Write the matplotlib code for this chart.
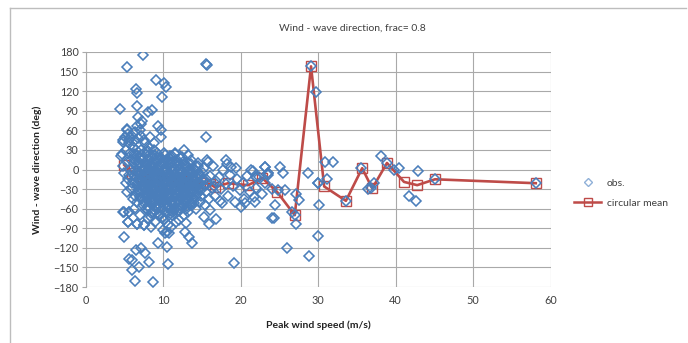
import matplotlib
matplotlib.use("Agg")
import matplotlib.pyplot as plt
from matplotlib.lines import Line2D

plt.rcParams["font.family"] = ["Lato", "DejaVu Sans"]

# Observed wind speed (m/s) and wind-wave direction difference (deg)
obs_x = [
    # main cloud, x 4.5-6
    4.6, 4.8, 5.0, 5.2, 5.3, 5.5, 5.6, 5.8, 5.9, 5.4, 5.1, 5.7, 6.0, 5.5, 5.9, 5.2, 4.9, 5.6,
    # x 6-7
    6.1, 6.2, 6.3, 6.4, 6.5, 6.6, 6.7, 6.8, 6.9, 6.2, 6.4, 6.6, 6.8, 6.3, 6.7, 6.5, 6.9, 6.1,
    # x 7-8
    7.0, 7.1, 7.2, 7.3, 7.4, 7.5, 7.6, 7.7, 7.8, 7.9, 7.2, 7.4, 7.6, 7.8, 7.1, 7.3, 7.5, 7.7, 7.9, 7.0,
    # x 8-9
    8.0, 8.1, 8.2, 8.3, 8.4, 8.5, 8.6, 8.7, 8.8, 8.9, 8.2, 8.4, 8.6, 8.8, 8.1, 8.3, 8.5, 8.7, 8.9, 8.0, 8.5,
    # x 9-10
    9.0, 9.1, 9.2, 9.3, 9.4, 9.5, 9.6, 9.7, 9.8, 9.9, 9.2, 9.4, 9.6, 9.8, 9.1, 9.3, 9.5, 9.7, 9.9, 9.0, 9.5, 9.9,
    # x 10-11
    10.0, 10.1, 10.2, 10.3, 10.4, 10.5, 10.6, 10.7, 10.8, 10.9, 10.2, 10.4, 10.6, 10.8, 10.1, 10.3,
    10.5, 10.7, 10.9, 10.0, 10.5, 10.8, 10.2,
    # x 11-12
    11.0, 11.1, 11.2, 11.3, 11.4, 11.5, 11.6, 11.7, 11.8, 11.9, 11.2, 11.4, 11.6, 11.8, 11.1, 11.3,
    11.5, 11.7, 11.9, 11.0, 11.5, 11.3,
    # x 12-13
    12.0, 12.1, 12.2, 12.3, 12.4, 12.5, 12.6, 12.7, 12.8, 12.9, 12.2, 12.4, 12.6, 12.8, 12.1, 12.3,
    12.5, 12.7, 12.9, 12.0,
    # x 13-14
    13.0, 13.2, 13.4, 13.6, 13.8, 13.1, 13.3, 13.5, 13.7, 13.9, 13.2, 13.6, 13.4, 13.8, 13.0,
    # x 14-15
    14.0, 14.2, 14.4, 14.6, 14.8, 14.1, 14.3, 14.5, 14.7, 14.9, 14.2, 14.6,
    # x 15-17
    15.1, 15.3, 15.5, 15.7, 15.9, 16.1, 16.3, 16.5, 16.7, 16.9, 15.4, 16.0, 16.6, 15.8,
    # x 17-20
    17.2, 17.5, 17.8, 18.1, 18.4, 18.7, 19.0, 19.3, 19.6, 19.9, 17.4, 18.2, 19.4,
    # x 20-24
    20.3, 20.8, 21.2, 21.6, 22.0, 22.4, 22.8, 23.2, 23.6, 24.0, 20.5, 21.9, 23.1, 23.5, 22.0,
    # dense core, rows from +25 down to -70 deg
    6.4, 6.9, 7.3, 7.8, 8.2, 8.7, 9.1, 9.6, 10.0, 10.4, 10.9, 11.3, 11.8, 12.2, 12.7, 13.1, 13.6, 14.0, 14.5,
    6.6, 7.0, 7.5, 7.9, 8.4, 8.8, 9.3, 9.7, 10.2, 10.6, 11.1, 11.5, 12.0, 12.4, 12.9, 13.3, 13.8, 14.2, 14.7, 15.2,
    6.5, 6.9, 7.4, 7.8, 8.3, 8.7, 9.2, 9.6, 10.1, 10.5, 11.0, 11.4, 11.9, 12.3, 12.8, 13.2, 13.7, 14.1, 14.6, 15.0, 15.6,
    6.7, 7.1, 7.6, 8.0, 8.5, 8.9, 9.4, 9.8, 10.3, 10.7, 11.2, 11.6, 12.1, 12.5, 13.0, 13.4, 13.9, 14.3, 14.8, 15.3,
    6.8, 7.2, 7.7, 8.1, 8.6, 9.0, 9.5, 9.9, 10.4, 10.8, 11.3, 11.7, 12.2, 12.6, 13.1, 13.5, 14.0, 14.4, 14.9,
    7.0, 7.5, 7.9, 8.4, 8.8, 9.3, 9.7, 10.2, 10.6, 11.1, 11.5, 12.0, 12.4, 12.9, 13.3, 13.8, 14.3,
    7.6, 8.1, 8.6, 9.0, 9.5, 9.9, 10.4, 10.8, 11.3, 11.7, 12.2, 12.6, 13.1, 13.6,
    6.2, 7.0, 7.9, 8.6, 9.4, 10.1, 10.9, 11.6, 12.4, 13.2,
    7.3, 7.7, 8.1, 8.5, 8.9, 9.3, 9.7, 10.1, 10.5, 10.9, 11.3, 11.7, 12.1, 12.5, 12.9, 13.3,
    7.5, 7.9, 8.3, 8.7, 9.1, 9.5, 9.9, 10.3, 10.7, 11.1, 11.5, 11.9, 12.3, 12.7, 13.1, 13.5,
    8.0, 8.5, 9.0, 9.5, 10.0, 10.5, 11.0, 11.5, 12.0, 12.5, 13.0, 13.5, 14.0,
    # upper-left spread
    5.3, 5.8, 6.0, 6.3, 7.0, 7.5, 6.6, 8.3, 7.2,
    # lower-left spread
    5.0, 5.6, 5.5, 6.7, 7.5, 6.2, 7.0, 8.0, 8.5, 9.0,
    # scattered points above the cloud
    7.4, 5.3, 4.4, 6.5, 6.6, 6.7, 6.8, 7.3, 8.0, 8.6, 9.1, 10.1, 10.4, 9.9, 9.3, 9.7, 9.8,
    15.6, 15.7, 15.6, 5.3, 4.9, 4.7, 5.6, 8.8, 8.9, 12.7, 15.7, 18.1, 18.8, 21.3,
    # scattered points below the cloud
    5.0, 4.9, 5.6, 5.5, 6.7, 7.5, 5.6, 6.0, 6.5, 7.1, 6.0, 6.4, 6.9, 7.7, 8.2, 8.7, 9.3,
    10.5, 10.7, 10.3, 10.8, 12.8, 13.3, 13.8, 15.9, 15.3, 16.8, 19.1, 20.0, 20.6, 21.7, 17.6,
    # high wind speeds
    24.3, 24.5, 26.0, 25.1, 25.5, 25.8, 24.1, 26.6, 27.1, 27.2, 27.6, 28.7, 28.8, 30.0, 30.1,
    30.0, 29.7, 30.9, 31.9, 31.2, 30.0, 36.5, 37.2, 38.1, 39.8, 40.5, 41.7, 42.6, 42.9, 45.1,
    58.1, 33.6, 35.6, 23.1, 23.5, 22.0, 29.1, 27.0, 24.8, 36.9, 38.9,
]
obs_y = [
    20, 5, -5, 30, 12, -15, 40, 0, -30, -35, 50, 25, -20, 55, 15, -20, 42, -8,
    35, -10, 10, -40, 30, -25, 5, 48, -15, 20, 58, -50, -35, -2, 22, -18, 12, -45,
    -5, 30, -30, 15, -55, 2, -20, 40, -40, 8, 52, -12, 25, -60, -45, 0, -28, 10, -18, 18,
    -10, 20, -35, 5, -50, -20, 12, -65, -5, -30, 35, -2, -42, 22, -58, -25, 8, -12, -48, 28, -72,
    -15, 15, -40, 0, -60, -25, 8, -50, -8, -32, 25, -5, -70, 18, -55, -20, 2, -38, -75, 20, -45, 10,
    -20, 10, -45, -5, -65, -30, 15, -85, -12, -50, 22, 0, -58, 5, -78, -35,
    -10, -40, -25, -92, -95, -70, -15,
    -18, 12, -40, -2, -60, -28, 8, -80, -10, -48, 20, -8, -52, 15, -70, -32,
    -15, -38, -22, -88, 25, -65,
    -20, 8, -42, -5, -58, -28, 12, -70, -12, -45, 18, -15, -35, 5, -62, -30,
    -2, -50, -25, -78,
    -15, 10, -40, -5, -55, -28, 0, -20, -35, -10, -65, 15, -48, -22, -82,
    -18, 5, -35, -8, -50, -25, -60, 10, -20, -40, -12, -30,
    -15, 2, -35, -22, -45, -10, -28, 5, -40, -18, -55, -62, -25, 12,
    -12, -30, 0, -22, -40, -8, -25, -50, -15, -32, -48, 8, 2,
    -20, -10, -35, -2, -28, -12, -38, -20, -8, -30, -45, -50, 4, -6, -11,
    14, 9, 16, 6, 13, 4, 11, 7, 15, 3, 12, 6, 10, 2, 9, 5, 8, 1, 6,
    -3, -6, 0, -4, -7, -1, -5, -8, -2, -6, -3, -7, -1, -5, -8, -4, -6, -2, -7, -5,
    -12, -16, -10, -14, -18, -11, -15, -17, -13, -19, -12, -16, -14, -18, -11, -15, -13, -17, -12, -16, -14,
    -22, -26, -20, -24, -28, -21, -25, -27, -23, -29, -22, -26, -24, -28, -21, -25, -23, -27, -22, -26,
    -32, -36, -30, -34, -38, -31, -35, -37, -33, -39, -32, -36, -34, -38, -31, -35, -33, -37, -32,
    -42, -46, -40, -44, -48, -41, -45, -47, -43, -49, -42, -46, -44, -48, -41, -45, -43,
    -52, -56, -50, -58, -54, -60, -52, -57, -55, -51, -59, -53, -56, -50,
    24, 19, 27, 21, 18, 25, 20, 23, 19, 22,
    5, -9, -19, -29, -3, -39, -13, -23, -45, -7, -33, -17, -27, -2, -37, -11,
    -25, -47, -8, -35, -20, -12, -42, 0, -28, -52, -18, -4, -40, -22, -9, -30,
    -62, -66, -64, -68, -72, -66, -63, -60, -64, -58, -61, -55, -52,
    62, 48, 52, 44, 60, 45, 66, 50, 70,
    -65, -65, -80, -83, -85, -60, -70, -75, -88, -80,
    175, 157, 93, 123, 117, 98, 80, 75, 88, 91, 137, 132, 126, 111, 66, 60, 50,
    162, 160, 50, 60, 45, 24, 45, 40, 30, 30, 14, 14, 4, 0,
    -104, -65, -65, -80, -83, -85, -137, -139, -124, -120, -154, -171, -149, -128, -142, -172, -112,
    -119, -145, -97, -97, -95, -103, -112, -83, -73, -76, -143, -57, -52, -42, -52,
    -75, -55, -121, 4, -6, -32, -75, -65, -83, -37, -46, -6, -133, -102, -54,
    -20, 118, 11, 11, -15, -21, -30, -20, 20, -1, 2, -41, -48, -2, -15,
    -21, -49, 2, 4, -6, -11, 158, -70, -32, -29, 10,
]

# Circular mean of the direction difference per wind-speed bin
mean_x = [5.0, 6.0, 7.0, 8.0, 9.0, 10.0, 11.0, 12.0, 13.0, 14.0, 15.0, 16.0, 16.7, 18.4,
          21.0, 22.8, 24.7, 27.0, 29.1, 30.8, 33.6, 35.7, 37.0, 38.9, 41.1, 42.8, 45.1, 58.1]
mean_y = [7, -5, -10, -14, -16, -17, -18, -17, -18, -19, -20, -22, -27, -21,
          -24, -13, -34, -70, 158, -26, -48, 2, -29, 10, -19, -24, -15, -21]

x_ticks = [0, 10, 20, 30, 40, 50, 60]
y_ticks = list(range(-180, 181, 30))

blue = "#4A7EBB"
red = "#BE4B48"
grid_c = "#A9A9A9"
text_c = "#404040"

fig = plt.figure(figsize=(6.88, 3.43), dpi=100)
ax = fig.add_axes([85.5 / 688, 1 - 287 / 343, 465 / 688, 235 / 343])

ax.plot(mean_x, mean_y, color=red, linewidth=1.9, marker="s", markersize=7,
        markerfacecolor="none", markeredgecolor=red, markeredgewidth=1.0,
        label="circular mean", zorder=3)
ax.plot(obs_x, obs_y, linestyle="none", marker="D", markersize=5.4,
        markerfacecolor="none", markeredgecolor=blue, markeredgewidth=1.15,
        label="obs.", zorder=4)

ax.set_xlim(0, 60)
ax.set_ylim(-180, 180)
ax.set_xticks(x_ticks)
ax.set_yticks(y_ticks)
ax.grid(True, color=grid_c, linewidth=0.8)
ax.set_axisbelow(True)
for side in ["top", "right", "bottom"]:
    ax.spines[side].set_visible(False)
ax.spines["left"].set_color(grid_c)
ax.tick_params(axis="y", length=3, color=grid_c, labelsize=7.8, labelcolor=text_c, pad=2)
ax.tick_params(axis="x", length=0, labelsize=7.8, labelcolor=text_c, pad=6)

ax.set_xlabel("Peak wind speed (m/s)", fontsize=7.5, fontweight="bold", color="#222222", labelpad=10)
ax.set_ylabel("Wind - wave direction (deg)", fontsize=7.5, fontweight="bold", color="#222222", labelpad=8)
fig.text(352 / 688, 1 - 28 / 343, "Wind - wave direction, frac= 0.8", ha="center", va="center",
         fontsize=7.5, color=text_c)

handles = [
    Line2D([], [], linestyle="none", marker="D", markersize=4, markerfacecolor="none",
           markeredgecolor="#8FB0D8", markeredgewidth=1.0),
    Line2D([], [], color=red, linewidth=1.8, marker="s", markersize=6,
           markerfacecolor="none", markeredgecolor=red, markeredgewidth=1.0),
]
fig.legend(handles, ["obs.", "circular mean"], loc="center left",
           bbox_to_anchor=(574 / 688, 1 - 193 / 343), frameon=False, fontsize=7.5,
           labelcolor=text_c, handlelength=2.6, handletextpad=0.55, labelspacing=1.0,
           borderpad=0.0, borderaxespad=0.0)

# outer chart frame
frame_c = "#BDBDBD"
fig.add_artist(Line2D([10 / 688, 10 / 688], [0, 1 - 8 / 343], color=frame_c, linewidth=1.0))
fig.add_artist(Line2D([10 / 688, 686 / 688], [1 - 8 / 343, 1 - 8 / 343], color=frame_c, linewidth=1.0))

fig.savefig("out.png", dpi=100)
